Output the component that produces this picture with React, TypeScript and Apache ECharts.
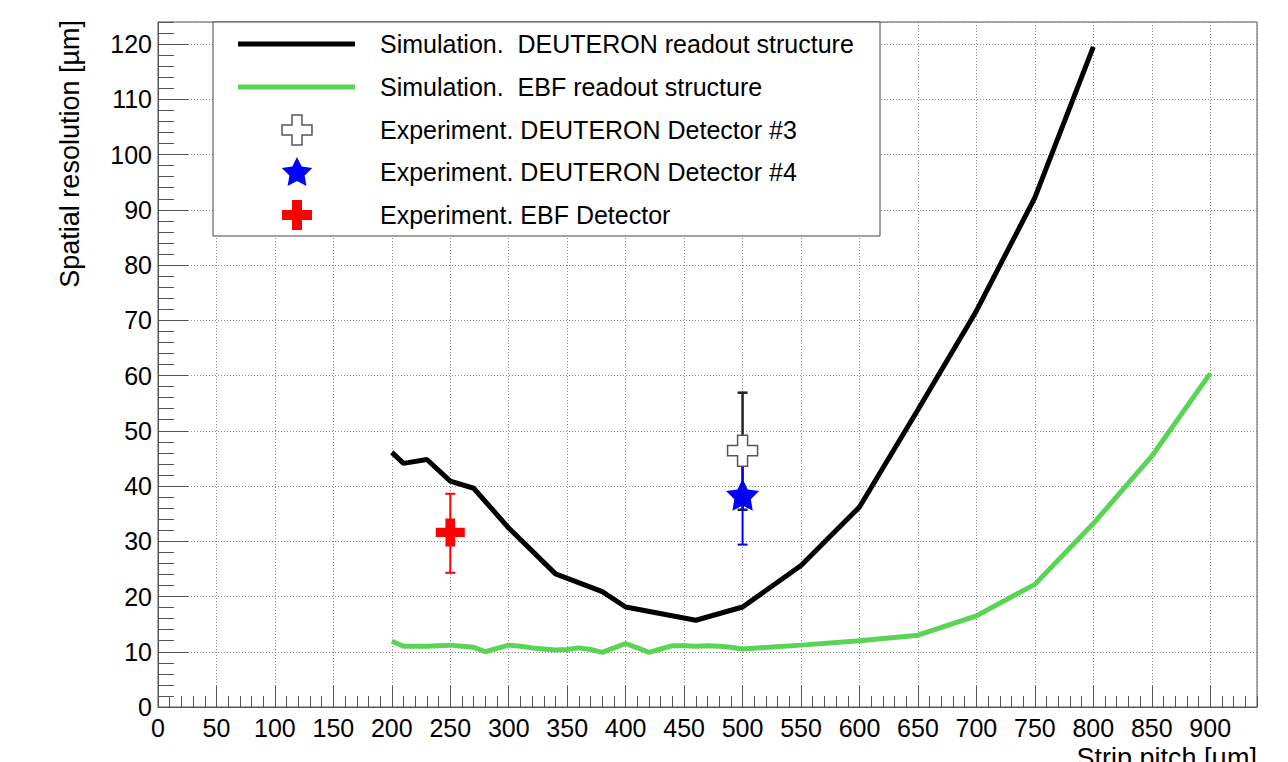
import React, { useEffect, useRef } from "react";
import * as echarts from "echarts";

// Simulation curves
const deutSimX = [200, 210, 230, 250, 270, 300, 340, 380, 400, 460, 500, 550, 600, 650, 700, 750, 800];
const deutSimY = [46.1, 44.1, 44.8, 40.9, 39.6, 32.4, 24.1, 20.9, 18.1, 15.7, 18.1, 25.6, 36.2, 53.8, 71.7, 92.2, 119.5];

const ebfSimX = [200, 210, 220, 230, 240, 250, 260, 270, 280, 290, 300, 310, 320, 330, 340, 350, 360, 370, 380, 390, 400, 410, 420, 430, 440, 450, 460, 470, 480, 490, 500, 550, 600, 650, 700, 750, 800, 850, 900];
const ebfSimY = [11.9, 11.0, 11.0, 11.0, 11.1, 11.2, 11.0, 10.8, 10.0, 10.6, 11.2, 11.0, 10.7, 10.5, 10.3, 10.4, 10.7, 10.4, 9.9, 10.7, 11.5, 10.7, 9.9, 10.5, 11.1, 11.1, 11.0, 11.1, 11.0, 10.8, 10.5, 11.2, 12.0, 13.0, 16.5, 22.2, 33.2, 45.4, 60.4];

// Experimental points: x, value, lower, upper
const det3X = [500];
const det3Y = [46.4];
const det3Lo = [35.7];
const det3Hi = [56.9];

const det4X = [500];
const det4Y = [38.4];
const det4Lo = [29.4];
const det4Hi = [46.9];

const ebfDetX = [250];
const ebfDetY = [31.6];
const ebfDetLo = [24.3];
const ebfDetHi = [38.6];

const legendLabels = [
  "Simulation.  DEUTERON readout structure",
  "Simulation.  EBF readout structure",
  "Experiment. DEUTERON Detector #3",
  "Experiment. DEUTERON Detector #4",
  "Experiment. EBF Detector",
];

const xTitle = "Strip pitch [\u00b5m]";
const yTitle = "Spatial resolution [\u00b5m]";

const FONT = '"Liberation Sans", Arial, Helvetica, sans-serif';
const AXIS_COLOR = "#555";
const GREEN = "#59d454";

const CROSS_PATH = "path://M1 0H2V1H3V2H2V3H1V2H0V1H1Z";
const STAR_PATH =
  "path://M0 -1L0.294 -0.405L0.951 -0.309L0.476 0.155L0.588 0.809L0 0.5L-0.588 0.809L-0.476 0.155L-0.951 -0.309L-0.294 -0.405Z";

function zip(xs: number[], ys: number[]) {
  return xs.map((x, i) => [x, ys[i]]);
}
function zip4(xs: number[], ys: number[], lo: number[], hi: number[]) {
  return xs.map((x, i) => [x, ys[i], lo[i], hi[i]]);
}

function errorBarSeries(data: number[][], color: string, width: number) {
  return {
    type: "custom",
    xAxisIndex: 0,
    yAxisIndex: 0,
    encode: { x: 0, y: 1 },
    data,
    renderItem: (params: any, api: any) => {
      const x = api.value(0);
      const a = api.coord([x, api.value(2)]);
      const b = api.coord([x, api.value(3)]);
      const style = { stroke: color, lineWidth: width };
      return {
        type: "group",
        children: [
          { type: "line", shape: { x1: a[0], y1: a[1], x2: b[0], y2: b[1] }, style },
          { type: "line", shape: { x1: a[0] - 5, y1: a[1], x2: a[0] + 5, y2: a[1] }, style },
          { type: "line", shape: { x1: b[0] - 5, y1: b[1], x2: b[0] + 5, y2: b[1] }, style },
        ],
      };
    },
  };
}

function crossPoints(cx: number, cy: number, s: number) {
  const h = s / 2;
  const a = s / 6;
  return [
    [cx - a, cy - h], [cx + a, cy - h], [cx + a, cy - a], [cx + h, cy - a],
    [cx + h, cy + a], [cx + a, cy + a], [cx + a, cy + h], [cx - a, cy + h],
    [cx - a, cy + a], [cx - h, cy + a], [cx - h, cy - a], [cx - a, cy - a],
  ];
}
function starPoints(cx: number, cy: number, r: number) {
  const pts: number[][] = [];
  for (let i = 0; i < 10; i++) {
    const ang = -Math.PI / 2 + (i * Math.PI) / 5;
    const rr = i % 2 === 0 ? r : r * 0.5;
    pts.push([cx + rr * Math.cos(ang), cy + rr * Math.sin(ang)]);
  }
  return pts;
}

export default function App() {
  const ref = useRef<HTMLDivElement>(null);
  useEffect(() => {
    if (!ref.current) return;
    const chart = echarts.init(ref.current, undefined, { renderer: "svg" });
    const rowY = [44, 87, 130, 172, 215];
    const legendGraphics: any[] = [
      {
        type: "rect",
        shape: { x: 213, y: 22, width: 667, height: 214 },
        style: { fill: "#fff", stroke: "#444", lineWidth: 1 },
        z: 100,
      },
      {
        type: "line",
        shape: { x1: 238, y1: rowY[0], x2: 355, y2: rowY[0] },
        style: { stroke: "#000", lineWidth: 5 },
        z: 101,
      },
      {
        type: "line",
        shape: { x1: 238, y1: rowY[1], x2: 355, y2: rowY[1] },
        style: { stroke: GREEN, lineWidth: 5 },
        z: 101,
      },
      {
        type: "polygon",
        shape: { points: crossPoints(297, rowY[2], 30) },
        style: { fill: "#fff", stroke: AXIS_COLOR, lineWidth: 1.5 },
        z: 101,
      },
      {
        type: "polygon",
        shape: { points: starPoints(297, rowY[3] + 1, 16) },
        style: { fill: "#0000ff" },
        z: 101,
      },
      {
        type: "polygon",
        shape: { points: crossPoints(297, rowY[4], 30) },
        style: { fill: "#ff0000" },
        z: 101,
      },
      ...legendLabels.map((t, i) => ({
        type: "text",
        x: 380,
        y: rowY[i],
        style: {
          text: t,
          fontFamily: FONT,
          fontSize: 25,
          fill: "#000",
          align: "left",
          verticalAlign: "middle",
        },
        z: 101,
      })),
      {
        type: "text",
        x: 70,
        y: 20,
        rotation: Math.PI / 2,
        style: {
          text: yTitle,
          fontFamily: FONT,
          fontSize: 27,
          fill: "#000",
          align: "right",
          verticalAlign: "middle",
        },
        z: 101,
      },
      {
        type: "text",
        x: 1257,
        y: 744,
        style: {
          text: xTitle,
          fontFamily: FONT,
          fontSize: 27,
          fill: "#000",
          align: "right",
          verticalAlign: "top",
        },
        z: 101,
      },
    ];

    const gridLine = { show: true, lineStyle: { color: "#8a8a8a", type: [1, 2], width: 1 } };

    chart.setOption({
      animation: false,
      backgroundColor: "#fff",
      grid: {
        left: 158,
        top: 22,
        right: 31,
        bottom: 55,
        show: true,
        borderColor: AXIS_COLOR,
        borderWidth: 1,
        backgroundColor: "transparent",
      },
      xAxis: [
        {
          type: "value",
          min: 0,
          max: 940,
          interval: 50,
          axisLine: { show: true, lineStyle: { color: AXIS_COLOR, width: 1 } },
          axisTick: { show: true, inside: true, length: 21, lineStyle: { color: AXIS_COLOR } },
          axisLabel: {
            show: true,
            margin: 8,
            fontSize: 25,
            fontFamily: FONT,
            color: "#000",
            showMaxLabel: false,
            formatter: (v: number) => (v % 50 === 0 ? String(v) : ""),
          },
          splitLine: gridLine,
        },
        {
          type: "value",
          position: "bottom",
          min: 0,
          max: 940,
          interval: 10,
          axisLine: { show: false },
          axisTick: { show: true, inside: true, length: 11, lineStyle: { color: AXIS_COLOR } },
          axisLabel: { show: false },
          splitLine: { show: false },
        },
      ],
      yAxis: [
        {
          type: "value",
          min: 0,
          max: 124,
          interval: 10,
          axisLine: { show: true, lineStyle: { color: AXIS_COLOR, width: 1 } },
          axisTick: { show: true, inside: true, length: 30, lineStyle: { color: AXIS_COLOR } },
          axisLabel: {
            show: true,
            margin: 6,
            fontSize: 25,
            fontFamily: FONT,
            color: "#000",
            showMaxLabel: false,
            formatter: (v: number) => (v % 10 === 0 ? String(v) : ""),
          },
          splitLine: gridLine,
        },
        {
          type: "value",
          position: "left",
          min: 0,
          max: 124,
          interval: 2,
          axisLine: { show: false },
          axisTick: { show: true, inside: true, length: 16, lineStyle: { color: AXIS_COLOR } },
          axisLabel: { show: false },
          splitLine: { show: false },
        },
      ],
      series: [
        {
          type: "line",
          name: legendLabels[0],
          data: zip(deutSimX, deutSimY),
          showSymbol: false,
          lineStyle: { color: "#000", width: 5 },
          itemStyle: { color: "#000" },
        },
        {
          type: "line",
          name: legendLabels[1],
          data: zip(ebfSimX, ebfSimY),
          showSymbol: false,
          lineStyle: { color: GREEN, width: 5 },
          itemStyle: { color: GREEN },
        },
        errorBarSeries(zip4(det3X, det3Y, det3Lo, det3Hi), "#222", 2.5),
        {
          type: "scatter",
          name: legendLabels[2],
          data: zip(det3X, det3Y),
          symbol: CROSS_PATH,
          symbolSize: [30, 31],
          itemStyle: { color: "#fff", borderColor: AXIS_COLOR, borderWidth: 1.5, opacity: 1 },
        },
        errorBarSeries(zip4(det4X, det4Y, det4Lo, det4Hi), "#0000ff", 2),
        {
          type: "scatter",
          name: legendLabels[3],
          data: zip(det4X, det4Y),
          symbol: STAR_PATH,
          symbolSize: [33, 32],
          itemStyle: { color: "#0000ff", opacity: 1 },
        },
        errorBarSeries(zip4(ebfDetX, ebfDetY, ebfDetLo, ebfDetHi), "#ff0000", 2),
        {
          type: "scatter",
          name: legendLabels[4],
          data: zip(ebfDetX, ebfDetY),
          symbol: CROSS_PATH,
          symbolSize: [29, 28],
          itemStyle: { color: "#ff0000", opacity: 1 },
        },
      ],
      graphic: legendGraphics,
    });
    return () => chart.dispose();
  }, []);

  return (
    <div
      ref={ref}
      style={{ position: "fixed", left: 0, top: 0, width: 1288, height: 762, background: "#fff" }}
    />
  );
}
